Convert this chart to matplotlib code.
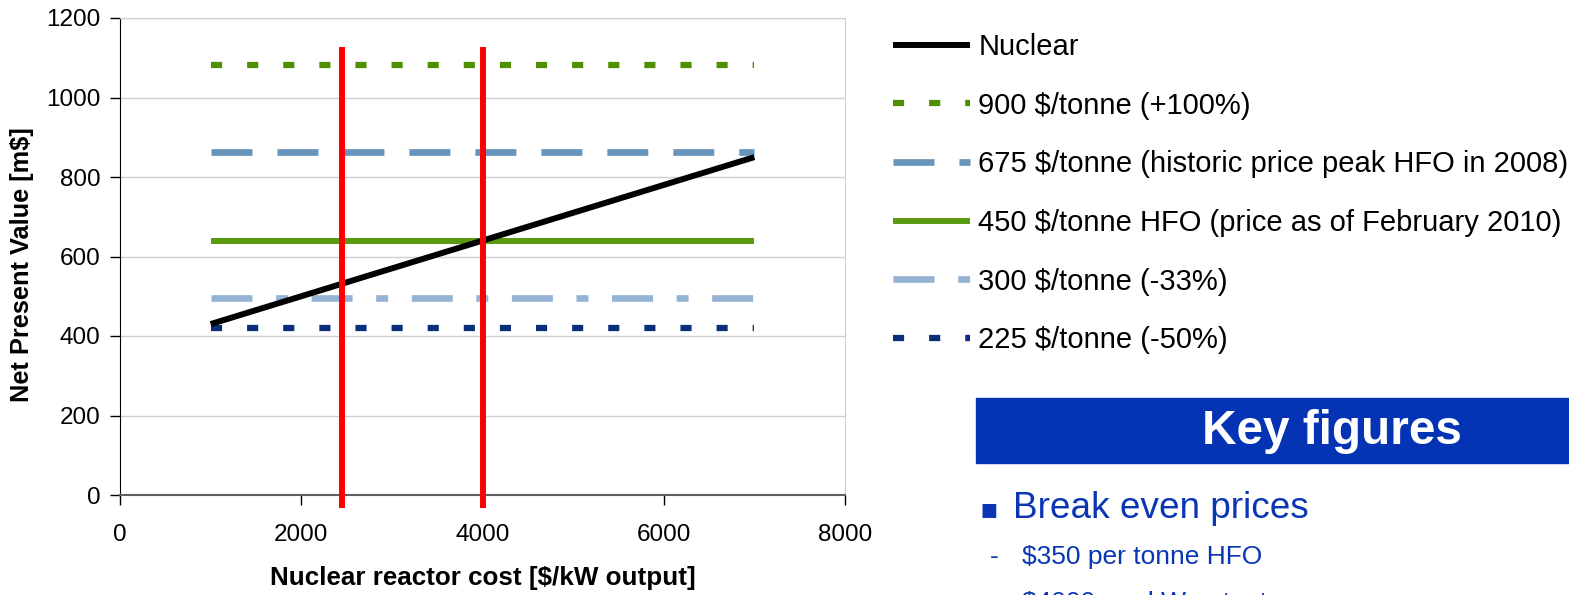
import matplotlib
matplotlib.use("Agg")
import matplotlib.pyplot as plt
from matplotlib.patches import Rectangle

plt.rcParams['font.family'] = ['Liberation Sans', 'DejaVu Sans']
plt.rcParams['lines.scale_dashes'] = False

# ---- data ----
nuclear_x = [1000, 7000]
nuclear_y = [430, 850]
hfo_x = [1000, 7000]
hfo_labels = ["900 $/tonne (+100%)",
              "675 $/tonne (historic price peak HFO in 2008)",
              "450 $/tonne HFO (price as of February 2010)",
              "300 $/tonne (-33%)",
              "225 $/tonne (-50%)"]
hfo_values = [1083, 862, 639, 496, 420]
breakeven_x = [2450, 4000]
breakeven_y = [-33, 1126]
x_ticks = [0, 2000, 4000, 6000, 8000]
y_ticks = [0, 200, 400, 600, 800, 1000, 1200]

hfo_colors = ["#4F8F00", "#6694BA", "#5A9B12", "#95B3D4", "#0B2D7A"]
hfo_dashes = [(0, (8, 18)), (0, (29.5, 18)), "-", (0, (29.5, 17, 8.6, 17)), (0, (8, 18))]
hfo_lw = [4.5, 4.8, 4.3, 4.8, 4.5]

W, H = 1569, 595
fig = plt.figure(figsize=(W / 100, H / 100), dpi=100)
ax = fig.add_axes([120 / W, 1 - 495 / H, (845 - 120) / W, (495 - 18) / H])

handles = []
h, = ax.plot(nuclear_x, nuclear_y, color="black", lw=4.3, solid_capstyle="butt", zorder=4, label="Nuclear")
handles.append(h)
for v, lab, c, ls, lw in zip(hfo_values, hfo_labels, hfo_colors, hfo_dashes, hfo_lw):
    h, = ax.plot(hfo_x, [v, v], color=c, lw=lw, linestyle=ls, dash_capstyle="butt",
                 solid_capstyle="butt", label=lab, zorder=3)
    handles.append(h)

for bx in breakeven_x:
    ax.plot([bx, bx], breakeven_y, color="#FF0000", lw=4.3, clip_on=False, zorder=5,
            solid_capstyle="butt")

ax.set_xlim(0, 8000)
ax.set_ylim(0, 1200)
ax.set_xticks(x_ticks)
ax.set_yticks(y_ticks)
ax.tick_params(axis="both", labelsize=17.5, length=7, width=1, color="black", direction="out")
ax.tick_params(axis="y", pad=7)
ax.tick_params(axis="x", pad=14)
ax.yaxis.grid(True, color="#D0D0D0", lw=1)
ax.set_axisbelow(True)
for s in ["top", "right"]:
    ax.spines[s].set_color("#D0D0D0")
ax.spines["left"].set_color("black")
ax.spines["bottom"].set_color("#606060")
ax.spines["bottom"].set_linewidth(1.5)

ax.set_xlabel("Nuclear reactor cost [$/kW output]", fontsize=18.7, fontweight="bold", labelpad=14)
ax.set_ylabel("Net Present Value [m$]", fontsize=18.3, fontweight="bold", va="center")
ax.yaxis.set_label_coords((22 - 120) / 725, (495 - 265) / 477)

fig.legend(handles=handles, loc="upper left", bbox_to_anchor=(893 / W, 1 - 33 / H),
           frameon=False, fontsize=21, handlelength=2.64, handletextpad=0.28,
           labelspacing=1.05, borderpad=0, borderaxespad=0)

# Key figures panel
fig.patches.append(Rectangle((976 / W, 1 - 463 / H), (W - 976) / W, 65 / H,
                             transform=fig.transFigure, color="#0433B3", zorder=1))
fig.text(1332 / W, 1 - 431 / H, "Key figures", color="white", fontsize=34.4, fontweight="bold",
         ha="center", va="center")
blue = "#0A36B4"
fig.text(979 / W, 1 - 509 / H, "\u25aa", color=blue, fontsize=20, ha="left", va="center",
         family=["DejaVu Sans"])
fig.text(1013 / W, 1 - 509 / H, "Break even prices", color=blue, fontsize=26.6, ha="left", va="center")
fig.text(990 / W, 1 - 557 / H, "-", color=blue, fontsize=19, ha="left", va="center")
fig.text(1022 / W, 1 - 557 / H, "$350 per tonne HFO", color=blue, fontsize=19, ha="left", va="center")
fig.text(990 / W, 1 - 602 / H, "-", color=blue, fontsize=19, ha="left", va="center")
fig.text(1022 / W, 1 - 603 / H, "$4000 per kW output", color=blue, fontsize=19, ha="left", va="center")

fig.savefig("out.png", dpi=100)
